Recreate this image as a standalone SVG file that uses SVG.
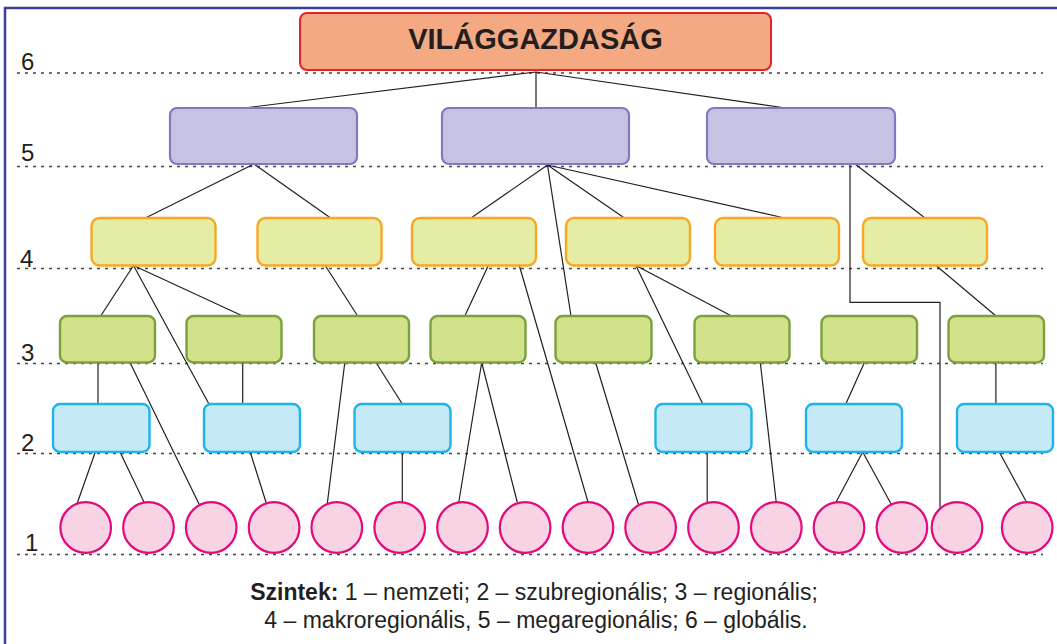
<svg xmlns="http://www.w3.org/2000/svg" width="1057" height="644" viewBox="0 0 1057 644">
<style>
.lvl{stroke:#444;stroke-width:1.4;stroke-dasharray:3 5;fill:none}
.num{font-family:"Liberation Sans",Arial,sans-serif;font-size:24px;fill:#231f20}
.c{stroke:#231f20;stroke-width:1.2;fill:none}
.top{fill:#f4a983;stroke:#e8202a;stroke-width:2}
.p{fill:#c5c3e1;stroke:#8079be;stroke-width:2.2}
.y{fill:#e5eca4;stroke:#f7a823;stroke-width:2.4}
.g{fill:#d2e28a;stroke:#77a23c;stroke-width:2.4}
.b{fill:#c6e9f8;stroke:#1eb3ea;stroke-width:2.4}
.k{fill:#f8d3e4;stroke:#e4097d;stroke-width:2.2}
.leg{font-family:"Liberation Sans",Arial,sans-serif;font-size:23px;fill:#231f20;text-anchor:middle}
</style>
<rect x="0" y="0" width="1057" height="644" fill="#ffffff"/>
<rect x="5" y="8" width="1100" height="700" fill="none" stroke="#3b3f9c" stroke-width="2.5"/>
<g id="levels">
<line class="lvl" x1="17" y1="73" x2="1043" y2="73"/>
<line class="lvl" x1="17" y1="166.5" x2="1043" y2="166.5"/>
<line class="lvl" x1="17" y1="268.5" x2="1043" y2="268.5"/>
<line class="lvl" x1="17" y1="363.5" x2="1043" y2="363.5"/>
<line class="lvl" x1="17" y1="453.5" x2="1043" y2="453.5"/>
<line class="lvl" x1="17" y1="554.5" x2="1043" y2="554.5"/>
<text class="num" x="21" y="70">6</text>
<text class="num" x="21" y="161">5</text>
<text class="num" x="20" y="267">4</text>
<text class="num" x="21" y="361">3</text>
<text class="num" x="21" y="451">2</text>
<text class="num" x="25" y="551">1</text>
</g>
<g id="connectors">
<path class="c" d="M536,72 L244,108 M536,72 L536,108 M536,72 L786,108"/>
<path class="c" d="M254,164 L145.4,218 M254,164 L330.6,218"/>
<path class="c" d="M547.5,165 L471,218 M547.5,165 L571,316 M547.5,165 L624.4,218 M547.5,165 L784.6,218"/>
<path class="c" d="M850,164 L850,302.4 L940,302.4 L940,509 M855,164 L925,218"/>
<path class="c" d="M133.5,265.5 L100.7,316 M133.5,265.5 L209,404 M133.5,265.5 L242.7,316"/>
<path class="c" d="M325.2,265.5 L357.7,316"/>
<path class="c" d="M488.3,265.5 L464.8,316 M519.3,265.5 L588,502"/>
<path class="c" d="M635.9,265.5 L731.5,316 M635.9,265.5 L702.8,404"/>
<path class="c" d="M936,265.5 L996,316"/>
<path class="c" d="M98,362.5 L98,404 M130,362.5 L199.5,505"/>
<path class="c" d="M242.7,362.5 L242.7,404"/>
<path class="c" d="M344.8,362.5 L327.3,503.5 M376,362.5 L402.3,404"/>
<path class="c" d="M481.7,362.5 L458.8,502 M481.7,362.5 L517.2,502"/>
<path class="c" d="M595.6,362.5 L638.6,505"/>
<path class="c" d="M760.3,362.5 L776.2,502"/>
<path class="c" d="M864.4,362.5 L845.8,404"/>
<path class="c" d="M995.9,362.5 L995.9,404"/>
<path class="c" d="M95.3,452 L77.1,503.5 M120,452 L144.7,503.5"/>
<path class="c" d="M250.2,452 L266.4,503.5"/>
<path class="c" d="M402.3,452 L402.3,502"/>
<path class="c" d="M707.2,452 L707.2,502"/>
<path class="c" d="M862.7,452 L835.3,503.5 M862.7,452 L891.1,504"/>
<path class="c" d="M999.3,452 L1026.7,502.5"/>
</g>
<g id="n-top"><rect class="top" x="300" y="13" width="471" height="57" rx="7"/>
<text x="535.5" y="49" text-anchor="middle" font-family="'Liberation Sans',Arial,sans-serif" font-weight="bold" font-size="29" fill="#231f20">VILÁGGAZDASÁG</text></g>
<g id="n-p1"><rect class="p" x="170" y="108" width="187" height="56" rx="7"/></g>
<g id="n-p2"><rect class="p" x="442" y="108" width="187" height="56" rx="7"/></g>
<g id="n-p3"><rect class="p" x="707" y="108" width="188" height="56" rx="7"/></g>
<g id="n-y1"><rect class="y" x="91.5" y="218" width="124" height="47.5" rx="8"/></g>
<g id="n-y2"><rect class="y" x="257.5" y="218" width="124" height="47.5" rx="8"/></g>
<g id="n-y3"><rect class="y" x="412" y="218" width="124" height="47.5" rx="8"/></g>
<g id="n-y4"><rect class="y" x="566" y="218" width="124" height="47.5" rx="8"/></g>
<g id="n-y5"><rect class="y" x="715" y="218" width="124" height="47.5" rx="8"/></g>
<g id="n-y6"><rect class="y" x="863" y="218" width="124" height="47.5" rx="8"/></g>
<g id="n-g1"><rect class="g" x="60" y="316" width="95" height="46.5" rx="7"/></g>
<g id="n-g2"><rect class="g" x="186.5" y="316" width="95" height="46.5" rx="7"/></g>
<g id="n-g3"><rect class="g" x="314" y="316" width="95" height="46.5" rx="7"/></g>
<g id="n-g4"><rect class="g" x="430.5" y="316" width="95" height="46.5" rx="7"/></g>
<g id="n-g5"><rect class="g" x="555.5" y="316" width="96" height="46.5" rx="7"/></g>
<g id="n-g6"><rect class="g" x="694.5" y="316" width="95" height="46.5" rx="7"/></g>
<g id="n-g7"><rect class="g" x="821.5" y="316" width="95.5" height="46.5" rx="7"/></g>
<g id="n-g8"><rect class="g" x="948.5" y="316" width="95.5" height="46.5" rx="7"/></g>
<g id="n-b1"><rect class="b" x="53" y="404" width="96.5" height="48" rx="7"/></g>
<g id="n-b2"><rect class="b" x="204" y="404" width="96" height="48" rx="7"/></g>
<g id="n-b3"><rect class="b" x="354.5" y="404" width="96" height="48" rx="7"/></g>
<g id="n-b4"><rect class="b" x="655.5" y="404" width="96" height="48" rx="7"/></g>
<g id="n-b5"><rect class="b" x="806" y="404" width="96" height="48" rx="7"/></g>
<g id="n-b6"><rect class="b" x="957" y="404" width="96" height="48" rx="7"/></g>
<g id="n-c1"><circle class="k" cx="85.7" cy="527.5" r="25.3"/></g>
<g id="n-c2"><circle class="k" cx="148.5" cy="527.5" r="25.3"/></g>
<g id="n-c3"><circle class="k" cx="211.2" cy="527.5" r="25.3"/></g>
<g id="n-c4"><circle class="k" cx="274.1" cy="527.5" r="25.3"/></g>
<g id="n-c5"><circle class="k" cx="336.8" cy="527.5" r="25.3"/></g>
<g id="n-c6"><circle class="k" cx="399.7" cy="527.5" r="25.3"/></g>
<g id="n-c7"><circle class="k" cx="462.5" cy="527.5" r="25.3"/></g>
<g id="n-c8"><circle class="k" cx="525.1" cy="527.5" r="25.3"/></g>
<g id="n-c9"><circle class="k" cx="588" cy="527.5" r="25.3"/></g>
<g id="n-c10"><circle class="k" cx="650.6" cy="527.5" r="25.3"/></g>
<g id="n-c11"><circle class="k" cx="713.5" cy="527.5" r="25.3"/></g>
<g id="n-c12"><circle class="k" cx="776.3" cy="527.5" r="25.3"/></g>
<g id="n-c13"><circle class="k" cx="839" cy="527.5" r="25.3"/></g>
<g id="n-c14"><circle class="k" cx="901.9" cy="527.5" r="25.3"/></g>
<g id="n-c15"><circle class="k" cx="957" cy="527.5" r="25.3"/></g>
<g id="n-c16"><circle class="k" cx="1027.2" cy="527.5" r="25.3"/></g>
<g id="legend">
<text class="leg" x="534" y="600"><tspan font-weight="bold">Szintek:</tspan> 1 – nemzeti; 2 – szubregionális; 3 – regionális;</text>
<text class="leg" x="536" y="628">4 – makroregionális, 5 – megaregionális; 6 – globális.</text>
</g>
</svg>
